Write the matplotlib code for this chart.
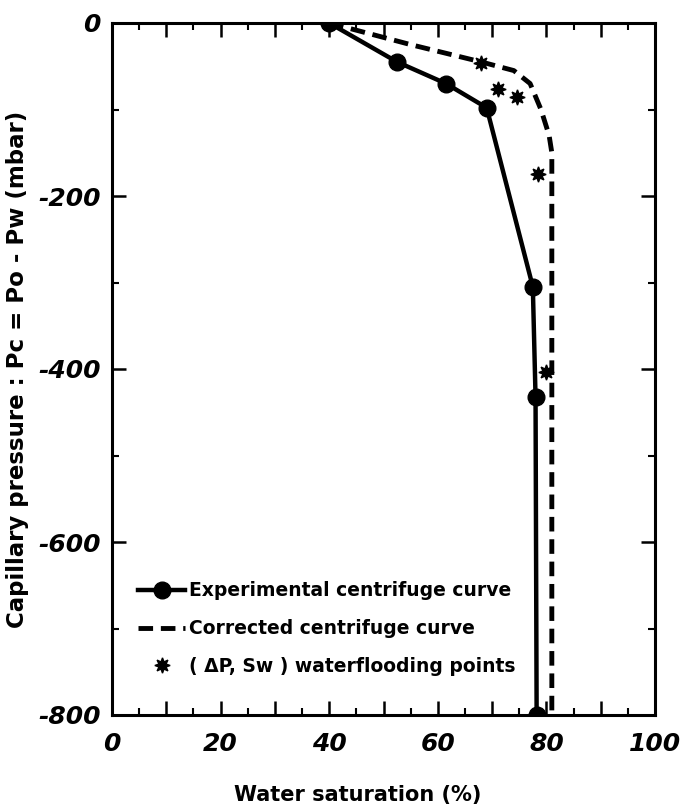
import numpy as np
import matplotlib
matplotlib.use("Agg")
import matplotlib.pyplot as plt
from matplotlib.ticker import MultipleLocator, FuncFormatter

# Experimental centrifuge curve (Sw %, Pc mbar)
exp_sw = [40, 52.5, 61.5, 69, 77.5, 78, 78.2]
exp_pc = [0, -45, -70, -98, -305, -432, -800]

# Corrected centrifuge curve
cor_sw = [40, 55, 68, 74, 77, 79, 80.5, 81, 81]
cor_pc = [0, -25, -45, -55, -70, -100, -130, -150, -800]

# Waterflooding points (dP, Sw)
wf_sw = [68, 71, 74.6, 78.5, 80]
wf_pc = [-46, -76, -85, -174, -403]

labels = ["Experimental centrifuge curve",
          "Corrected centrifuge curve",
          "( \u0394P, Sw ) waterflooding points"]

plt.rcParams['font.family'] = ['DejaVu Sans']
plt.rcParams['axes.unicode_minus'] = False

fig = plt.figure(figsize=(6.88, 8.11), dpi=100)
ax = fig.add_axes([112 / 688, 1 - 715 / 811, 543 / 688, 692 / 811])

ax.plot(exp_sw, exp_pc, color='black', lw=3.2, marker='o', ms=12,
        label=labels[0], zorder=3)
ax.plot(cor_sw, cor_pc, color='black', lw=3.5, ls=(0, (3.0, 1.6)),
        label=labels[1], zorder=2)
ax.plot(wf_sw, wf_pc, ls='none', marker=(8, 1, 0), ms=11, color='black',
        label=labels[2], zorder=4)

ax.set_xlim(0, 100)
ax.set_ylim(-800, 0)

ax.xaxis.set_major_locator(MultipleLocator(10))
ax.xaxis.set_minor_locator(MultipleLocator(5))
ax.yaxis.set_major_locator(MultipleLocator(200))
ax.yaxis.set_minor_locator(MultipleLocator(100))

every20 = FuncFormatter(lambda v, p: f"{v:.0f}" if round(v) % 20 == 0 else "")
ax.xaxis.set_major_formatter(every20)

ax.tick_params(which='major', direction='in', length=10, width=1.8,
               top=True, right=True)
ax.tick_params(which='minor', direction='in', length=5, width=1.5,
               top=True, right=True)
ax.tick_params(axis='x', which='major', pad=12)
ax.tick_params(axis='y', which='major', pad=8)

for lab in ax.get_xticklabels() + ax.get_yticklabels():
    lab.set_fontsize(18)
    lab.set_fontweight('bold')
    lab.set_fontstyle('italic')

for s in ax.spines.values():
    s.set_linewidth(2.2)

ax.set_xlabel("Water saturation (%)", fontsize=15, fontweight='bold')
ax.xaxis.set_label_coords(0.453, -0.101)
ax.set_ylabel("Capillary pressure : Pc = Po - Pw (mbar)", fontsize=16.5,
              fontweight='bold')
ax.yaxis.set_label_coords(-0.152, 0.5)

leg = ax.legend(loc='upper left', bbox_to_anchor=(0.048, 0.193),
                frameon=False, fontsize=13.5, borderpad=0, borderaxespad=0,
                labelspacing=1.0, handlelength=2.5, handletextpad=0.2,
                numpoints=1)
for t in leg.get_texts():
    t.set_fontweight('bold')

fig.savefig("out.png", dpi=100)
